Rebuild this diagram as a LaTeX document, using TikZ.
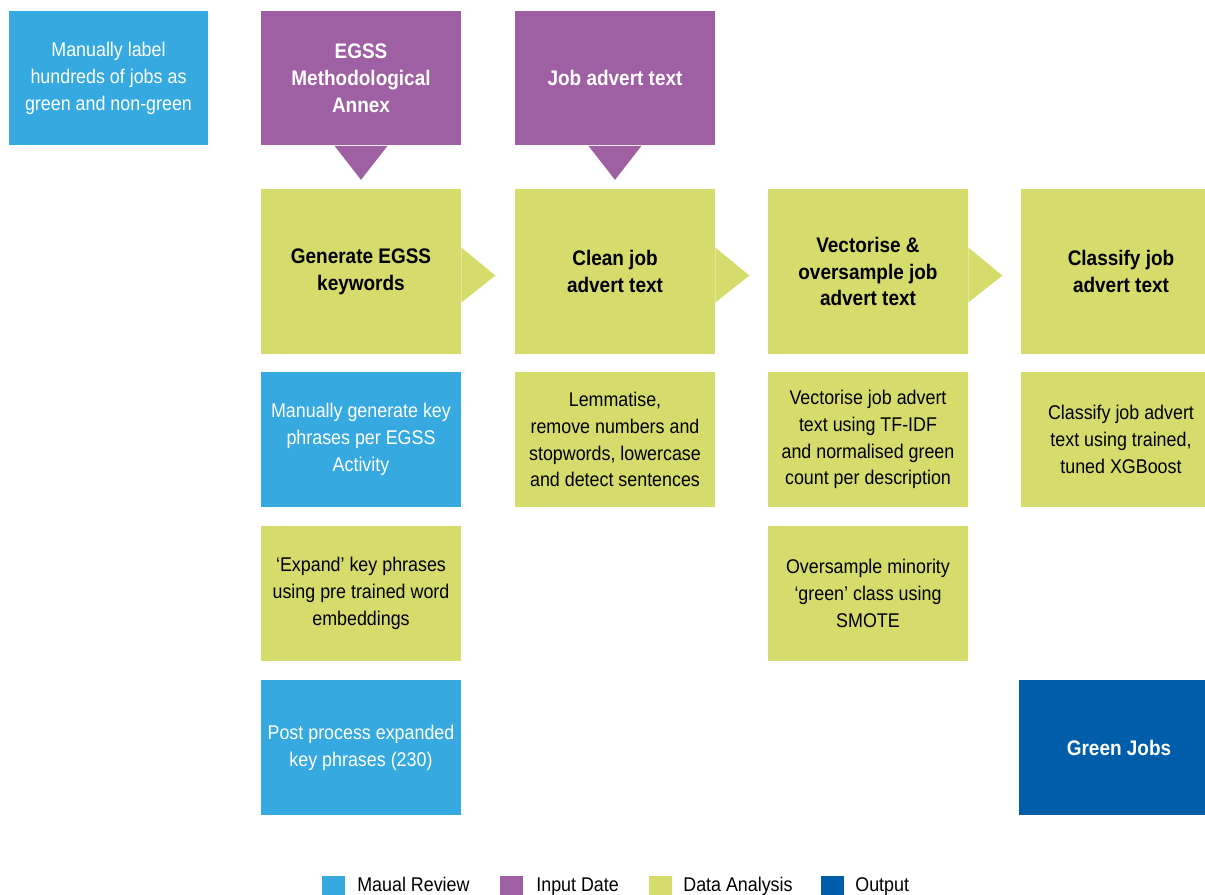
\documentclass[tikz,border=0pt]{standalone}
\usepackage{fontspec}
\setmainfont[FakeStretch=0.9]{Liberation Sans}
\usepackage{tikz}
\pgfdeclarelayer{nodelayer}
\pgfdeclarelayer{edgelayer}
\pgfsetlayers{edgelayer,nodelayer,main}
\definecolor{reviewblue}{HTML}{36A9E1}
\definecolor{inputpurple}{HTML}{9E5FA3}
\definecolor{analysisgreen}{HTML}{D5DC6B}
\definecolor{outputblue}{HTML}{005DA9}
\tikzstyle{box}=[shape=rectangle, inner sep=0pt, align=center, minimum width=4cm, minimum height=2.7cm, font=\fontsize{11.3}{15.3}\selectfont]
\tikzstyle{review}=[box, fill=reviewblue, text=white]
\tikzstyle{input}=[box, fill=inputpurple, text=white, font=\fontsize{12}{15.3}\selectfont\bfseries]
\tikzstyle{analysis}=[box, fill=analysisgreen, text=black]
\tikzstyle{step head}=[analysis, minimum height=3.3cm, font=\fontsize{12}{15.3}\selectfont\bfseries]
\tikzstyle{output}=[box, fill=outputblue, text=white, font=\fontsize{12}{15.3}\selectfont\bfseries]
\tikzstyle{key}=[shape=rectangle, inner sep=0pt, minimum width=0.46cm, minimum height=0.46cm]
\tikzstyle{key text}=[anchor=base west, inner sep=0pt, font=\fontsize{11.3}{13}\selectfont]

\begin{document}
\begin{tikzpicture}[x=0.02cm, y=-0.02cm]
    \useasboundingbox (0, 0) rectangle (1205, 894);
    \begin{pgfonlayer}{nodelayer}
        \node [style=review, minimum width=3.98cm] (label) at (108.5, 78) {Manually label\\hundreds of jobs as\\green and non-green};
        \node [style=input] (annex) at (361, 78) {EGSS\\Methodological\\Annex};
        \node [style=input] (advert) at (615, 78) {Job advert text};
        \node [style=step head] (generate) at (361, 271.5) {Generate EGSS\\keywords};
        \node [style=step head] (clean) at (615, 271.5) {Clean job\\advert text};
        \node [style=step head] (vector) at (868, 271.5) {Vectorise \&\\oversample job\\advert text};
        \node [style=step head] (classify) at (1121, 271.5) {Classify job\\advert text};
        \node [style=review] (phrases) at (361, 439.5) {Manually generate key\\phrases per EGSS\\Activity};
        \node [style=analysis] (lemma) at (615, 439.5) {Lemmatise,\\remove numbers and\\stopwords, lowercase\\and detect sentences};
        \node [style=analysis] (tfidf) at (868, 439.5) {Vectorise job advert\\text using TF-IDF\\and normalised green\\count per description};
        \node [style=analysis] (xgb) at (1121, 439.5) {Classify job advert\\text using trained,\\tuned XGBoost};
        \node [style=analysis] (expand) at (361, 593.5) {`Expand' key phrases\\using pre trained word\\embeddings};
        \node [style=analysis] (smote) at (868, 593.5) {Oversample minority\\`green' class using\\SMOTE};
        \node [style=review] (post) at (361, 747.5) {Post process expanded\\key phrases (230)};
        \node [style=output] (jobs) at (1119, 747.5) {Green Jobs};
        % legend
        \node [style=key, fill=reviewblue] (k1) at (333.5, 887) {};
        \node [style=key text] (t1) at (357, 891) {Maual Review};
        \node [style=key, fill=inputpurple] (k2) at (511.5, 887) {};
        \node [style=key text] (t2) at (536, 891) {Input Date};
        \node [style=key, fill=analysisgreen] (k3) at (660.5, 887) {};
        \node [style=key text] (t3) at (683, 891) {Data Analysis};
        \node [style=key, fill=outputblue] (k4) at (832.5, 887) {};
        \node [style=key text] (t4) at (855, 891) {Output};
    \end{pgfonlayer}
    \begin{pgfonlayer}{edgelayer}
        \fill [inputpurple] ([xshift=-0.53cm]annex.south) -- ([yshift=-0.68cm]annex.south) -- ([xshift=0.53cm]annex.south) -- cycle;
        \fill [inputpurple] ([xshift=-0.53cm]advert.south) -- ([yshift=-0.68cm]advert.south) -- ([xshift=0.53cm]advert.south) -- cycle;
        \fill [analysisgreen] ([yshift=0.48cm]generate.east) -- ([xshift=0.68cm, yshift=-0.08cm]generate.east) -- ([yshift=-0.62cm]generate.east) -- cycle;
        \fill [analysisgreen] ([yshift=0.48cm]clean.east) -- ([xshift=0.68cm, yshift=-0.08cm]clean.east) -- ([yshift=-0.62cm]clean.east) -- cycle;
        \fill [analysisgreen] ([yshift=0.48cm]vector.east) -- ([xshift=0.68cm, yshift=-0.08cm]vector.east) -- ([yshift=-0.62cm]vector.east) -- cycle;
    \end{pgfonlayer}
\end{tikzpicture}
\end{document}
